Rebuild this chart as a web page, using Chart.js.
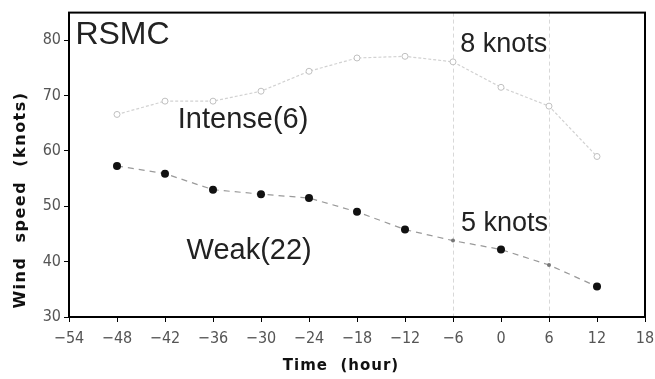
<!DOCTYPE html>
<html>
<head>
<meta charset="utf-8">
<script src="https://cdn.jsdelivr.net/npm/chart.js@4/dist/chart.umd.min.js"></script>
<style>
  html, body { margin: 0; padding: 0; background: #fff; }
  #wrap { width: 655px; height: 379px; }
</style>
</head>
<body>
<div id="wrap"><canvas id="chart"></canvas></div>
<script>
// ---- data ----
const hours = [-48, -42, -36, -30, -24, -18, -12, -6, 0, 6, 12];
const intense = [66.6, 69.0, 69.0, 70.8, 74.4, 76.8, 77.1, 76.1, 71.5, 68.1, 59.0];
const weak = [57.3, 55.9, 53.0, 52.2, 51.5, 49.0, 45.8, 43.8, 42.2, 39.4, 35.5];
const xTicks = [-54, -48, -42, -36, -30, -24, -18, -12, -6, 0, 6, 12, 18];
const yTicks = [30, 40, 50, 60, 70, 80];
const markLines = [-6, 6];

// text labels: [text, x (hour), y (knots), font size]
const labels = [
  ["RSMC", -53.2, 80.9, 32],
  ["Intense(6)", -40.4, 65.6, 29],
  ["Weak(22)", -39.3, 41.9, 29],
  ["8 knots", -5.1, 79.2, 27],
  ["5 knots", -5.0, 46.8, 27]
];

const fmt = v => v < 0 ? "\u2212" + Math.abs(v) : String(v);
const tickFont = { family: "'DejaVu Sans Condensed', 'Liberation Sans Narrow', sans-serif", size: 16 };

const overlay = {
  id: "overlay",
  beforeDatasetsDraw(c) {
    const { ctx, chartArea: a, scales: { x } } = c;
    ctx.save();
    ctx.strokeStyle = "#d8d8d8";
    ctx.lineWidth = 1;
    ctx.setLineDash([4, 3]);
    markLines.forEach(h => {
      const px = Math.round(x.getPixelForValue(h)) + 0.5;
      ctx.beginPath();
      ctx.moveTo(px, a.top);
      ctx.lineTo(px, a.bottom);
      ctx.stroke();
    });
    ctx.restore();
  },
  afterDraw(c) {
    const { ctx, chartArea: a, scales: { x, y } } = c;
    ctx.save();
    ctx.strokeStyle = "#000";
    ctx.lineWidth = 2;
    ctx.strokeRect(a.left, a.top, a.right - a.left, a.bottom - a.top);

    // annotations
    ctx.fillStyle = "#222";
    ctx.textBaseline = "middle";
    ctx.textAlign = "left";
    labels.forEach(([t, hx, vy, size]) => {
      ctx.font = size + "px 'Liberation Sans', Arial, sans-serif";
      ctx.fillText(t, x.getPixelForValue(hx), y.getPixelForValue(vy));
    });

    // axis titles (spaced, bold)
    ctx.fillStyle = "#111";
    ctx.textAlign = "center";
    ctx.font = "bold 15px 'DejaVu Sans', sans-serif";
    ctx.letterSpacing = "1px";
    ctx.fillText("Time  (hour)", a.left + (a.right - a.left) / 2 - 16, 366);
    ctx.translate(21, 200);
    ctx.rotate(-Math.PI / 2);
    ctx.font = "bold 16px 'DejaVu Sans', sans-serif";
    ctx.letterSpacing = "1.5px";
    ctx.fillText("Wind  speed  (knots)", 0, 0);
    ctx.restore();
  }
};

new Chart(document.getElementById("chart"), {
  type: "line",
  data: {
    datasets: [{
      label: "Intense",
      data: hours.map((h, i) => ({ x: h, y: intense[i] })),
      borderColor: "#d2d2d2",
      borderWidth: 1.2,
      borderDash: [3, 2],
      pointStyle: "circle",
      pointRadius: 3,
      pointBackgroundColor: "#fff",
      pointBorderColor: "#c0c0c0",
      pointBorderWidth: 1,
      tension: 0
    }, {
      label: "Weak",
      data: hours.map((h, i) => ({ x: h, y: weak[i] })),
      borderColor: "#9a9a9a",
      borderWidth: 1.2,
      borderDash: [6, 5],
      pointRadius: ctx => markLines.includes(hours[ctx.dataIndex]) ? 2 : 4,
      pointBackgroundColor: ctx => markLines.includes(hours[ctx.dataIndex]) ? "#777" : "#111",
      pointBorderColor: ctx => markLines.includes(hours[ctx.dataIndex]) ? "#777" : "#111",
      pointBorderWidth: 0,
      tension: 0
    }]
  },
  options: {
    responsive: true,
    maintainAspectRatio: false,
    animation: false,
    layout: { padding: { top: 7, right: 10, left: 0, bottom: 0 } },
    plugins: { legend: { display: false }, tooltip: { enabled: false } },
    scales: {
      x: {
        type: "linear",
        min: -54,
        max: 18,
        afterBuildTicks: s => { s.ticks = xTicks.map(v => ({ value: v })); },
        afterFit: s => { s.height = 62; s.paddingLeft = 0; s.paddingRight = 0; },
        grid: { drawOnChartArea: false, tickLength: 5, color: "#000", tickWidth: 1 },
        border: { display: true, color: "#000", width: 2 },
        ticks: { color: "#555", font: tickFont, padding: 7, maxRotation: 0, callback: v => fmt(v) }
      },
      y: {
        min: 30,
        max: 85,
        afterBuildTicks: s => { s.ticks = yTicks.map(v => ({ value: v })); },
        afterFit: s => { s.width = 69; },
        grid: { drawOnChartArea: false, tickLength: 5, color: "#000", tickWidth: 1 },
        border: { display: true, color: "#000", width: 2 },
        ticks: { color: "#555", font: tickFont, padding: 3 }
      }
    }
  },
  plugins: [overlay]
});
</script>
</body>
</html>
